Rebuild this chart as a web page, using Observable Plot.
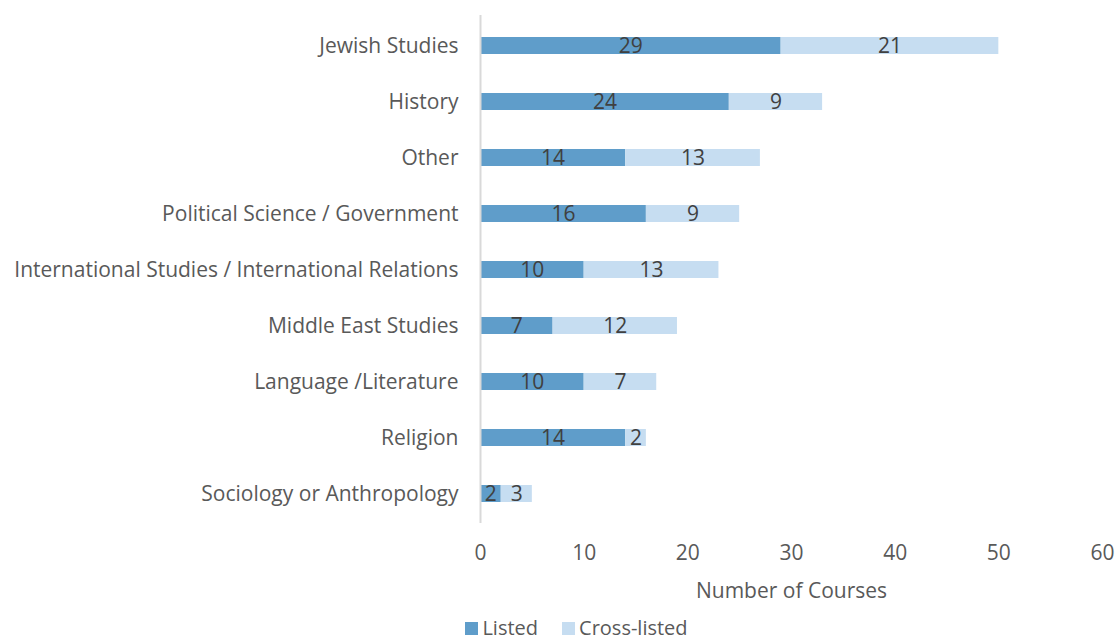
<!DOCTYPE html>
<html>
<head>
<meta charset="utf-8">
<script src="https://cdn.jsdelivr.net/npm/d3@7"></script>
<script src="https://cdn.jsdelivr.net/npm/@observablehq/plot@0.6"></script>
<style>
  html, body { margin: 0; padding: 0; background: #fff; overflow: hidden; }
  #chart svg { display: block; }
  .legend { display: flex; justify-content: center; align-items: center; gap: 24px; padding-left: 36px;
    font-family: "Open Sans", sans-serif; font-size: 20px; line-height: 24px; color: #595959;
    height: 29px; box-sizing: border-box; padding-top: 3px; }
  .legend span.sw { display: inline-block; width: 13px; height: 13px; margin-right: 4px; vertical-align: 0px; }
</style>
</head>
<body>
<div id="chart"></div>
<script>
const categories = ["Jewish Studies", "History", "Other", "Political Science / Government",
  "International Studies / International Relations", "Middle East Studies",
  "Language /Literature", "Religion", "Sociology or Anthropology"];
const listed = [29, 24, 14, 16, 10, 7, 10, 14, 2];
const crossListed = [21, 9, 13, 9, 13, 12, 7, 2, 3];
const series = ["Listed", "Cross-listed"];
const colors = ["#5f9dca", "#c6ddf1"];
const xTicks = [0, 10, 20, 30, 40, 50, 60];

const data = [];
categories.forEach((c, i) => {
  data.push({cat: c, series: "Listed", value: listed[i]});
  data.push({cat: c, series: "Cross-listed", value: crossListed[i]});
});

const font = "'Open Sans', sans-serif";

const chart = Plot.plot({
  width: 1117,
  height: 612,
  marginLeft: 480,
  marginRight: 15,
  marginTop: 15,
  marginBottom: 89,
  style: {fontFamily: font, fontSize: "21px", color: "#595959", background: "#fff"},
  x: {domain: [0, 60]},
  y: {domain: categories, paddingInner: 0.7, paddingOuter: 0.35},
  color: {domain: series, range: colors},
  marks: [
    Plot.barX(data, Plot.stackX({x: "value", y: "cat", fill: "series", order: series})),
    Plot.textX(data, Plot.stackX({x: "value", y: "cat", z: "series", text: "value", order: series,
      fill: "#404040", fontSize: 21})),
    Plot.ruleX([0], {stroke: "#d9d9d9", strokeWidth: 2}),
    Plot.axisY({tickSize: 0, tickPadding: 22, label: null, fontSize: 21, fill: "#595959"}),
    Plot.axisX({ticks: xTicks, tickSize: 0, tickPadding: 22, label: "Number of Courses",
      labelAnchor: "center", labelArrow: "none", labelOffset: 74, fontSize: 21, fill: "#595959"})
  ]
});
document.getElementById("chart").appendChild(chart);

const legend = document.createElement("div");
legend.className = "legend";
series.forEach((s, i) => {
  const item = document.createElement("div");
  item.innerHTML = `<span class="sw" style="background:${colors[i]}"></span>${s}`;
  legend.appendChild(item);
});
document.body.appendChild(legend);
</script>
</body>
</html>
